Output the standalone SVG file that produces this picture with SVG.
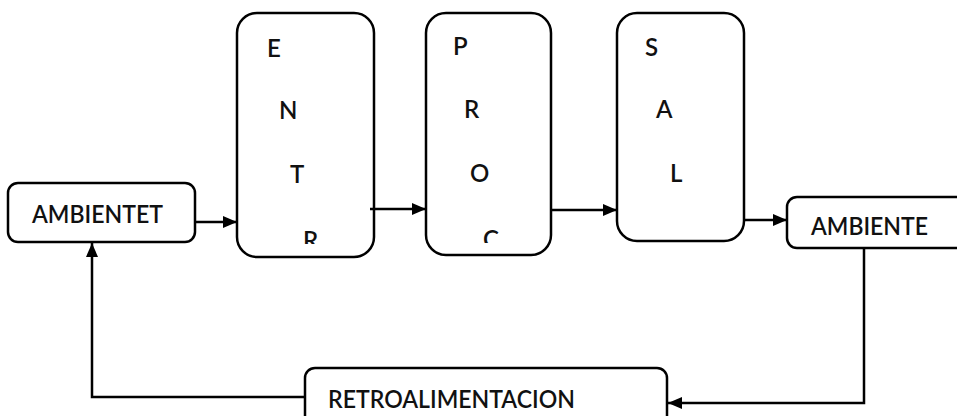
<svg xmlns="http://www.w3.org/2000/svg" width="957" height="416" viewBox="0 0 957 416">
  <style>
    .box { fill: #ffffff; stroke: #000000; stroke-width: 2.5; }
    .lbl { font-family: Lato, "Open Sans", "Liberation Sans", sans-serif; font-size: 24px; font-weight: 600; fill: #111111; }
    .ltr { font-family: Lato, "Open Sans", "Liberation Sans", sans-serif; font-size: 24px; font-weight: 600; fill: #111111; }
    .con { fill: none; stroke: #000000; stroke-width: 2.5; }
  </style>
  <defs>
    <marker id="arr" markerUnits="userSpaceOnUse" markerWidth="16" markerHeight="14" refX="14" refY="7" orient="auto">
      <path d="M0,1 L14,7 L0,13 Z" fill="#000000"/>
    </marker>
    <clipPath id="clipEntr"><rect x="237" y="13" width="137" height="231"/></clipPath>
    <clipPath id="clipProc"><rect x="426" y="13" width="125" height="230"/></clipPath>
  </defs>
  <rect width="957" height="416" fill="#ffffff"/>

  <g id="ambientet">
    <rect class="box" x="8" y="183" width="187" height="59" rx="10"/>
    <text class="lbl" x="32" y="223" textLength="131" lengthAdjust="spacingAndGlyphs">AMBIENTET</text>
  </g>

  <g id="entr">
    <rect class="box" x="237" y="13" width="137" height="244" rx="20"/>
    <g clip-path="url(#clipEntr)">
      <text class="ltr" x="267" y="57">E</text>
      <text class="ltr" x="279" y="119">N</text>
      <text class="ltr" x="290" y="183">T</text>
      <text class="ltr" x="303" y="249">R</text>
    </g>
  </g>

  <g id="proc">
    <rect class="box" x="426" y="13" width="125" height="242" rx="20"/>
    <g clip-path="url(#clipProc)">
      <text class="ltr" x="453" y="55">P</text>
      <text class="ltr" x="464" y="118">R</text>
      <text class="ltr" x="470" y="182">O</text>
      <text class="ltr" x="483" y="248">C</text>
    </g>
  </g>

  <g id="sal">
    <rect class="box" x="617" y="13" width="127" height="228" rx="20"/>
    <text class="ltr" x="645" y="56">S</text>
    <text class="ltr" x="656" y="118">A</text>
    <text class="ltr" x="670" y="182">L</text>
  </g>

  <g id="ambiente">
    <rect class="box" x="787" y="197" width="200" height="51" rx="10"/>
    <text class="lbl" x="811" y="235" textLength="117" lengthAdjust="spacingAndGlyphs">AMBIENTE</text>
  </g>

  <g id="retroalimentacion">
    <rect class="box" x="305" y="368" width="362" height="70" rx="10"/>
    <text class="lbl" x="328" y="408" textLength="247" lengthAdjust="spacingAndGlyphs">RETROALIMENTACION</text>
  </g>

  <g id="connectors">
    <path class="con" d="M195,222 L237,222" marker-end="url(#arr)"/>
    <path class="con" d="M370,209 L426,209" marker-end="url(#arr)"/>
    <path class="con" d="M551,210 L617,210" marker-end="url(#arr)"/>
    <path class="con" d="M744,220 L787,220" marker-end="url(#arr)"/>
    <path class="con" d="M864,248 L864,403 L668,403" marker-end="url(#arr)"/>
    <path class="con" d="M305,397 L92,397 L92,243" marker-end="url(#arr)"/>
  </g>
</svg>
